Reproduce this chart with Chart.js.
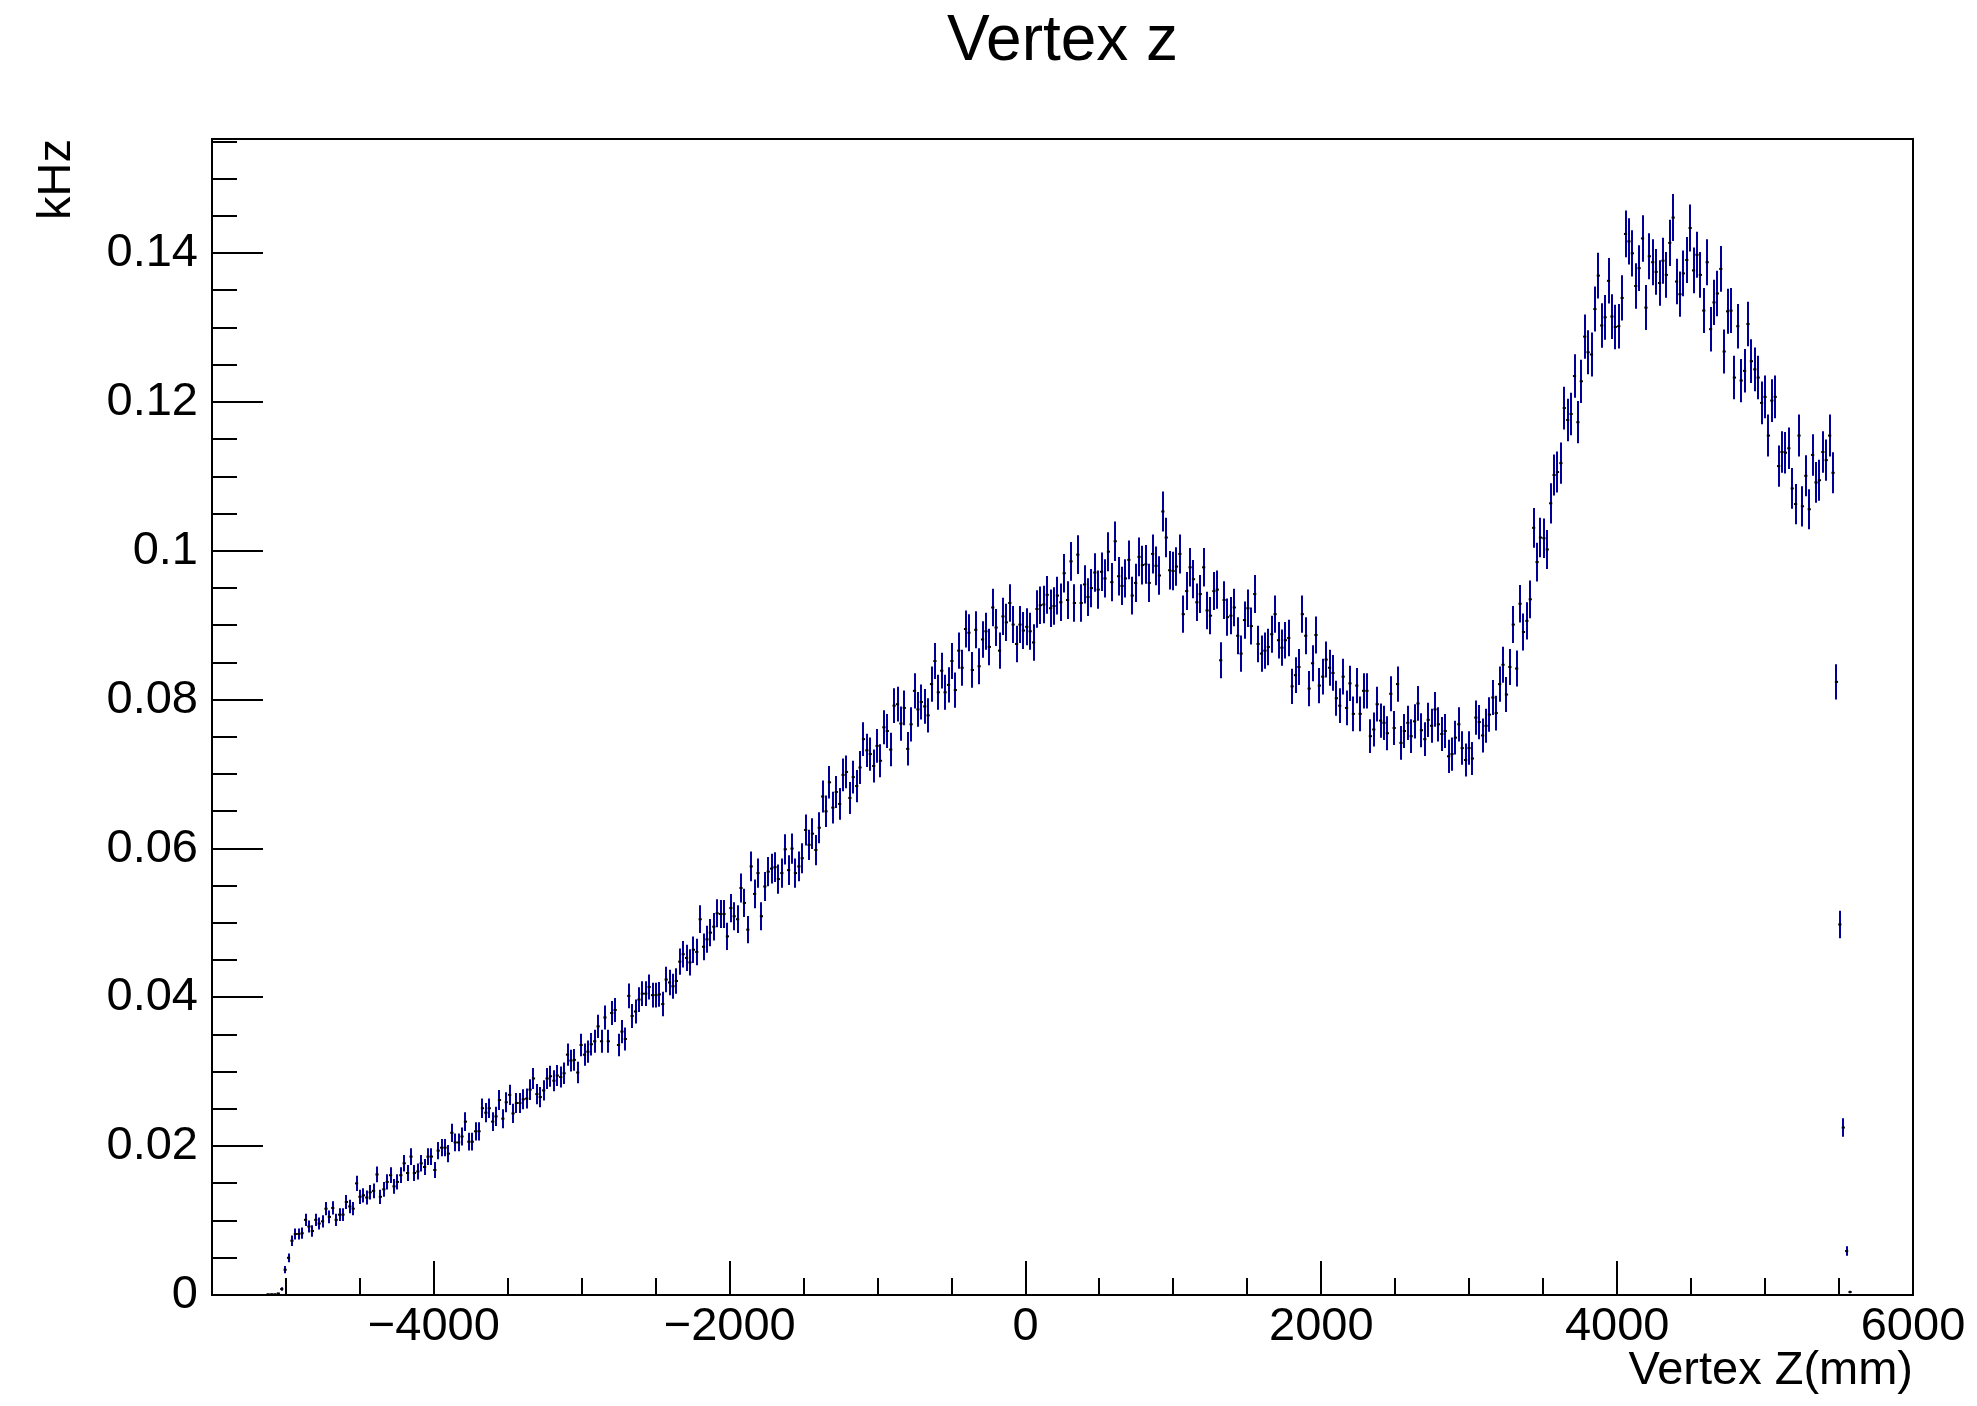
<!DOCTYPE html>
<html><head><meta charset="utf-8">
<script src="https://cdn.jsdelivr.net/npm/chart.js@4.4.1/dist/chart.umd.min.js"></script>
<style>html,body{margin:0;padding:0;background:#fff;}canvas{display:block;}</style>
</head><body>
<canvas id="c" width="1977" height="1406"></canvas>
<script>
const chartTitle = 'Vertex z';
const xTitle = 'Vertex Z(mm)';
const yTitle = 'kHz';
const binLow = -5500;
const binWidth = 23;
const xRange = [-5500, 6000];
const yRange = [0, 0.15536];
const xTickValues = [-4000, -2000, 0, 2000, 4000, 6000];
const xTickLabels = ['\u22124000', '\u22122000', '0', '2000', '4000', '6000'];
const yTickValues = [0, 0.02, 0.04, 0.06, 0.08, 0.1, 0.12, 0.14];
const yTickLabels = ['0', '0.02', '0.04', '0.06', '0.08', '0.1', '0.12', '0.14'];
const errScale = 0.0083; // statistical (Poisson-like) uncertainty: err = errScale * sqrt(rate)

// rate per bin (kHz), 500 bins of 23 mm from -5500 mm
const rate = [
0,0,0,0,0,0,0,0,0,0,
0,0,0,0,0,0,0.0001,0.0001,0.0001,0.0002,
0.0008,0.0034,0.0050,0.0073,0.0082,0.0082,0.0083,0.0101,0.0092,0.0086,
0.0101,0.0096,0.0099,0.0116,0.0105,0.0117,0.0101,0.0108,0.0108,0.0125,
0.0119,0.0116,0.0150,0.0132,0.0134,0.0131,0.0138,0.0140,0.0162,0.0132,
0.0142,0.0152,0.0161,0.0146,0.0152,0.0161,0.0177,0.0164,0.0186,0.0164,
0.0166,0.0177,0.0172,0.0186,0.0186,0.0168,0.0194,0.0198,0.0198,0.0190,
0.0218,0.0205,0.0205,0.0213,0.0233,0.0206,0.0206,0.0220,0.0220,0.0251,
0.0245,0.0251,0.0233,0.0240,0.0262,0.0237,0.0259,0.0269,0.0244,0.0258,
0.0258,0.0263,0.0264,0.0276,0.0291,0.0270,0.0266,0.0275,0.0291,0.0294,
0.0288,0.0295,0.0293,0.0298,0.0323,0.0315,0.0316,0.0299,0.0336,0.0323,
0.0327,0.0337,0.0341,0.0361,0.0341,0.0373,0.0341,0.0379,0.0383,0.0336,
0.0354,0.0344,0.0402,0.0375,0.0381,0.0397,0.0405,0.0405,0.0414,0.0403,
0.0403,0.0404,0.0391,0.0424,0.0420,0.0415,0.0422,0.0448,0.0458,0.0453,
0.0447,0.0464,0.0461,0.0505,0.0468,0.0478,0.0487,0.0495,0.0513,0.0512,
0.0512,0.0482,0.0520,0.0509,0.0505,0.0547,0.0527,0.0491,0.0576,0.0539,
0.0567,0.0509,0.0549,0.0569,0.0573,0.0575,0.0559,0.0567,0.0599,0.0571,
0.0600,0.0567,0.0576,0.0587,0.0625,0.0605,0.0620,0.0598,0.0628,0.0670,
0.0650,0.0689,0.0655,0.0676,0.0660,0.0699,0.0703,0.0668,0.0696,0.0684,
0.0709,0.0747,0.0732,0.0727,0.0711,0.0738,0.0718,0.0763,0.0758,0.0733,
0.0792,0.0794,0.0768,0.0789,0.0734,0.0767,0.0812,0.0787,0.0797,0.0791,
0.0779,0.0821,0.0852,0.0810,0.0839,0.0810,0.0820,0.0852,0.0813,0.0866,
0.0843,0.0895,0.0890,0.0840,0.0894,0.0845,0.0881,0.0892,0.0871,0.0924,
0.0897,0.0866,0.0912,0.0904,0.0930,0.0901,0.0875,0.0901,0.0893,0.0898,
0.0892,0.0877,0.0922,0.0927,0.0928,0.0941,0.0923,0.0926,0.0940,0.0931,
0.0970,0.0934,0.0986,0.0930,0.0995,0.0930,0.0955,0.0938,0.0950,0.0971,
0.0948,0.0972,0.0963,0.0999,0.0958,0.1013,0.0966,0.0953,0.0963,0.0988,
0.0940,0.0957,0.0992,0.0981,0.0982,0.0957,0.0996,0.0980,0.0967,0.1053,
0.1018,0.0974,0.0973,0.0979,0.0996,0.0915,0.0946,0.0978,0.0962,0.0931,
0.0942,0.0978,0.0920,0.0913,0.0946,0.0948,0.0853,0.0934,0.0911,0.0913,
0.0924,0.0886,0.0862,0.0907,0.0923,0.0899,0.0942,0.0875,0.0862,0.0866,
0.0871,0.0888,0.0915,0.0880,0.0870,0.0880,0.0883,0.0818,0.0833,0.0844,
0.0915,0.0886,0.0815,0.0849,0.0887,0.0819,0.0831,0.0854,0.0843,0.0836,
0.0802,0.0792,0.0831,0.0789,0.0822,0.0781,0.0819,0.0781,0.0812,0.0812,
0.0751,0.0760,0.0794,0.0772,0.0769,0.0755,0.0808,0.0762,0.0821,0.0742,
0.0758,0.0769,0.0751,0.0771,0.0795,0.0759,0.0747,0.0773,0.0765,0.0787,
0.0767,0.0754,0.0758,0.0724,0.0727,0.0749,0.0767,0.0735,0.0719,0.0735,
0.0721,0.0776,0.0770,0.0752,0.0765,0.0780,0.0803,0.0782,0.0821,0.0847,
0.0807,0.0844,0.0901,0.0842,0.0929,0.0891,0.0906,0.0935,0.1031,0.0985,
0.1018,0.1017,0.1002,0.1064,0.1102,0.1106,0.1118,0.1192,0.1176,0.1184,
0.1235,0.1173,0.1228,0.1288,0.1267,0.1264,0.1325,0.1370,0.1303,0.1314,
0.1363,0.1315,0.1301,0.1302,0.1340,0.1426,0.1416,0.1400,0.1356,0.1380,
0.1420,0.1327,0.1396,0.1388,0.1375,0.1360,0.1390,0.1371,0.1414,0.1448,
0.1362,0.1345,0.1373,0.1391,0.1434,0.1377,0.1398,0.1371,0.1323,0.1388,
0.1298,0.1334,0.1346,0.1379,0.1268,0.1322,0.1323,0.1233,0.1302,0.1229,
0.1242,0.1305,0.1255,0.1244,0.1233,0.1199,0.1207,0.1155,0.1202,0.1207,
0.1114,0.1133,0.1132,0.1138,0.1084,0.1063,0.1155,0.1060,0.1101,0.1056,
0.1129,0.1092,0.1095,0.1133,0.1122,0.1155,0.1105,0.0824,0.0498,0.0225,
0.0059,0.0004,0,0,0,0,0,0,0,0,
0,0,0,0,0,0,0,0,0,0
];

const FONT = "'Liberation Sans', Arial, Helvetica, sans-serif";
const points = [];
rate.forEach((v, i) => {
  if (v > 0) points.push({x: binLow + binWidth * (i + 0.5), y: v, e: errScale * Math.sqrt(v)});
});

const rootFrame = {
  id: 'rootFrame',
  beforeDatasetsDraw(chart) {
    const {ctx, chartArea: a, scales: {x, y}} = chart;
    ctx.save();
    ctx.beginPath();
    ctx.rect(a.left, a.top, a.right - a.left, a.bottom - a.top);
    ctx.clip();
    ctx.strokeStyle = '#000099';
    ctx.lineWidth = 2;
    ctx.beginPath();
    chart.data.datasets[0].data.forEach(p => {
      const px = Math.round(x.getPixelForValue(p.x));
      ctx.moveTo(px, y.getPixelForValue(p.y - p.e));
      ctx.lineTo(px, y.getPixelForValue(p.y + p.e));
    });
    ctx.stroke();
    ctx.restore();
  },
  afterDraw(chart) {
    const {ctx, chartArea: a, scales: {x, y}} = chart;
    ctx.save();
    ctx.strokeStyle = '#000';
    ctx.lineWidth = 2;
    ctx.strokeRect(a.left, a.top, a.right - a.left, a.bottom - a.top);
    ctx.beginPath();
    // x ticks (inward from bottom)
    for (let v = -5000; v <= xRange[1]; v += 500) {
      const px = Math.round(x.getPixelForValue(v));
      const major = xTickValues.includes(v);
      ctx.moveTo(px, a.bottom);
      ctx.lineTo(px, a.bottom - (major ? 34 : 17));
    }
    // y ticks (inward from left)
    for (let k = 0; k <= 31; k++) {
      const v = k * 0.005;
      if (v > yRange[1]) break;
      const py = Math.round(y.getPixelForValue(v));
      const major = (k % 4 === 0);
      ctx.moveTo(a.left, py);
      ctx.lineTo(a.left + (major ? 51 : 25), py);
    }
    ctx.stroke();
    // y axis title
    ctx.fillStyle = '#000';
    ctx.font = '47px ' + FONT;
    ctx.translate(70, a.top);
    ctx.rotate(-Math.PI / 2);
    ctx.textAlign = 'right';
    ctx.textBaseline = 'alphabetic';
    ctx.fillText(yTitle, 0, 0);
    ctx.restore();
  }
};

new Chart(document.getElementById('c'), {
  type: 'scatter',
  data: {
    datasets: [{
      label: chartTitle,
      data: points,
      showLine: false,
      pointStyle: 'line',
      pointRadius: 1.6,
      pointHoverRadius: 1.6,
      borderWidth: 2,
      pointBorderWidth: 2,
      borderColor: '#000',
      backgroundColor: '#000'
    }]
  },
  options: {
    responsive: false,
    devicePixelRatio: 1,
    animation: false,
    events: [],
    layout: {padding: {left: 0, right: 64, top: 0, bottom: 0}},
    plugins: {
      legend: {display: false},
      tooltip: {enabled: false},
      title: {
        display: true,
        fullSize: false,
        text: chartTitle,
        color: '#000',
        font: {family: FONT, size: 64, weight: 'normal', lineHeight: 1},
        padding: {top: 10, bottom: 65}
      }
    },
    scales: {
      x: {
        type: 'linear',
        position: 'bottom',
        min: xRange[0],
        max: xRange[1],
        grid: {display: false, drawTicks: false},
        border: {display: false},
        afterBuildTicks: s => { s.ticks = xTickValues.map(v => ({value: v})); },
        afterFit: s => { s.height = 111; },
        ticks: {
          autoSkip: false, maxRotation: 0, minRotation: 0, padding: 9, color: '#000',
          font: {family: FONT, size: 47, lineHeight: 1},
          callback: (v, i) => xTickLabels[i]
        },
        title: {
          display: true, text: xTitle, align: 'end', color: '#000',
          font: {family: FONT, size: 47, lineHeight: 1},
          padding: {top: 0, bottom: 11}
        }
      },
      y: {
        type: 'linear',
        position: 'left',
        min: yRange[0],
        max: yRange[1],
        grid: {display: false, drawTicks: false},
        border: {display: false},
        afterBuildTicks: s => { s.ticks = yTickValues.map(v => ({value: v})); },
        afterFit: s => { s.width = 212; },
        ticks: {
          autoSkip: false, padding: 14, color: '#000',
          font: {family: FONT, size: 47, lineHeight: 1},
          callback: (v, i) => yTickLabels[i]
        }
      }
    }
  },
  plugins: [rootFrame]
});
</script>
</body></html>
